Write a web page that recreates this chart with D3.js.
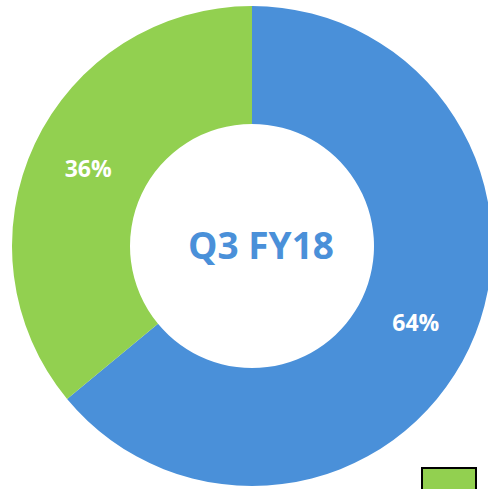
<!DOCTYPE html>
<html>
<head>
<meta charset="utf-8">
<script src="https://cdn.jsdelivr.net/npm/d3@7"></script>
<style>
  html, body { margin: 0; padding: 0; background: #fff; }
  svg { display: block; }
</style>
</head>
<body>
<svg id="chart"></svg>
<script>
const categories = ["Blue", "Green"];
const values = [64, 36];
const labels = ["64%", "36%"];
const colors = ["#4a90d9", "#92d050"];
const centerTitle = "Q3 FY18";

const width = 488;
const height = 489;
const cx = 252;
const cy = 246;
const outerR = 240;
const innerR = 122;

const svg = d3.select("#chart")
  .attr("width", width)
  .attr("height", height);

const pie = d3.pie().sort(null).value((d) => d);
const arc = d3.arc().innerRadius(innerR).outerRadius(outerR);

const g = svg.append("g").attr("transform", `translate(${cx},${cy})`);

const arcs = pie(values);

g.selectAll("path")
  .data(arcs)
  .enter()
  .append("path")
  .attr("d", arc)
  .attr("fill", (d, i) => colors[i]);

// slice labels
g.selectAll("text.pct")
  .data(arcs)
  .enter()
  .append("text")
  .attr("class", "pct")
  .attr("transform", (d) => `translate(${arc.centroid(d)})`)
  .attr("text-anchor", "middle")
  .attr("dy", "0.35em")
  .style("font-family", "'Open Sans', sans-serif")
  .style("font-weight", "bold")
  .style("font-size", "23px")
  .style("fill", "#fff")
  .text((d, i) => labels[i]);

// title in the hole (sits a little right of centre in the original)
g.append("text")
  .attr("x", 9)
  .attr("text-anchor", "middle")
  .attr("dy", "0.35em")
  .style("font-family", "'Open Sans', sans-serif")
  .style("font-weight", "bold")
  .style("font-size", "37px")
  .style("fill", colors[0])
  .text(centerTitle);

// legend swatch, cut off at the bottom edge
svg.append("rect")
  .attr("x", 422)
  .attr("y", 468)
  .attr("width", 54)
  .attr("height", 30)
  .attr("fill", colors[1])
  .attr("stroke", "#000")
  .attr("stroke-width", 2);
</script>
</body>
</html>
